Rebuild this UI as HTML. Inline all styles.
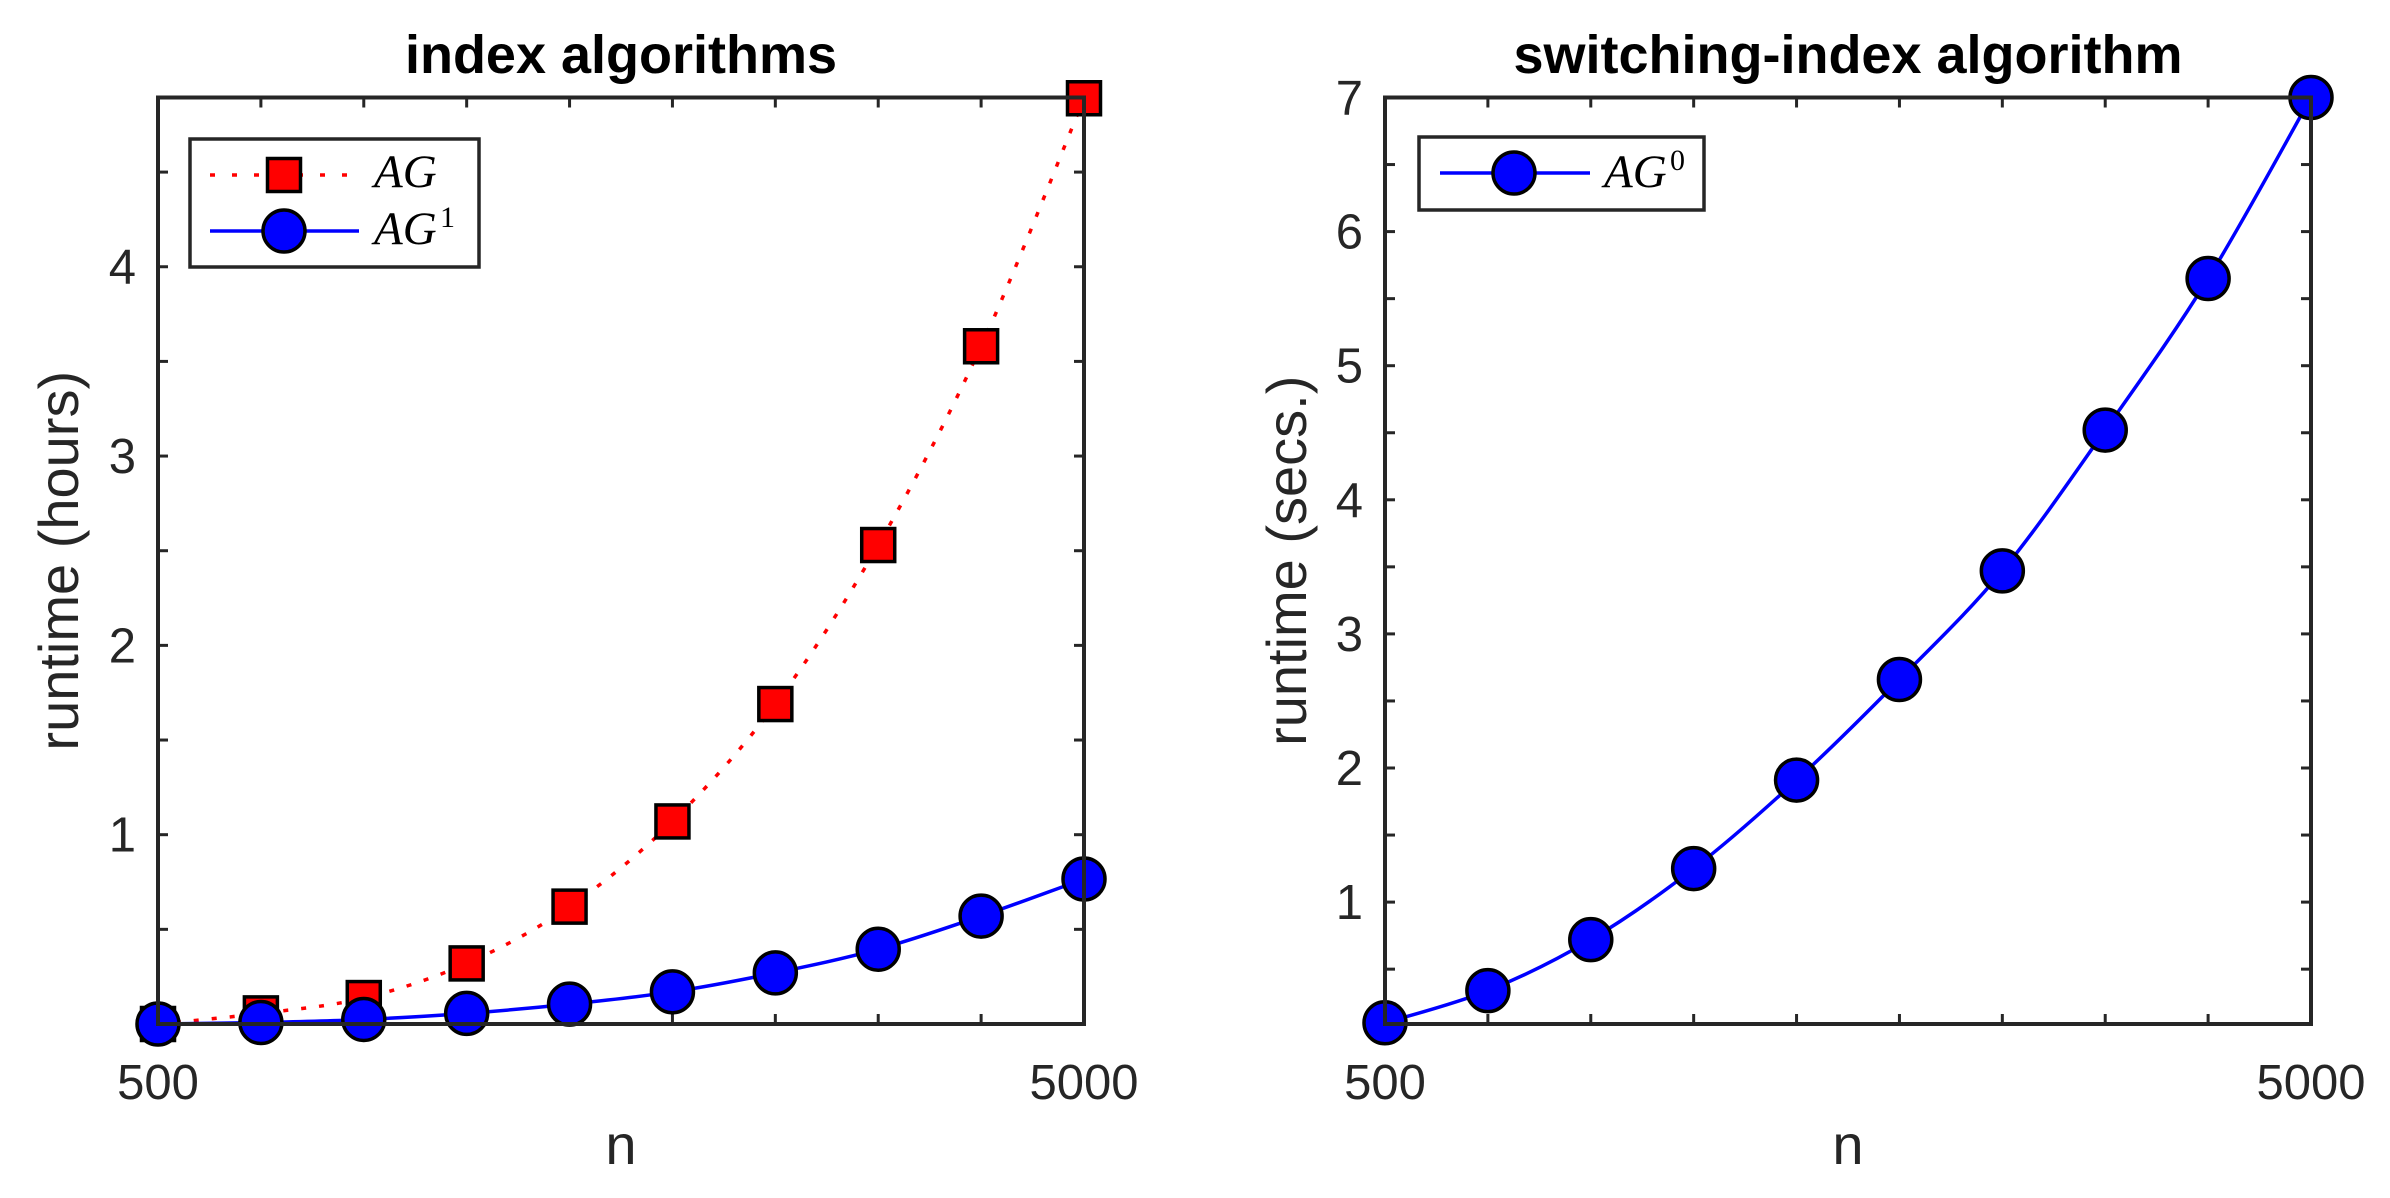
<!DOCTYPE html>
<html><head><meta charset="utf-8"><style>
html,body{margin:0;padding:0;background:#fff;}
svg{display:block;}
.t{font-family:"Liberation Sans",sans-serif;fill:#262626;}
.lg{font-family:"Liberation Serif",serif;font-style:italic;fill:#000;font-size:47px;}
</style></head><body>
<svg id="s" width="2390" height="1198" viewBox="0 0 2390 1198" xmlns="http://www.w3.org/2000/svg">
<rect width="2390" height="1198" fill="#fff"/>
<text class="t" x="621" y="73" text-anchor="middle" font-size="54" font-weight="bold" style="fill:#000">index algorithms</text>
<text class="t" x="1848" y="73" text-anchor="middle" font-size="54" font-weight="bold" style="fill:#000">switching-index algorithm</text>
<g id="g"></g>
</svg>
<script>
var NS="http://www.w3.org/2000/svg",g=document.getElementById('g');
function el(n,a,t){var e=document.createElementNS(NS,n);for(var k in a)e.setAttribute(k,a[k]);if(t!=null)e.textContent=t;g.appendChild(e);return e;}
function smooth(p){var d="M"+p[0][0]+","+p[0][1];for(var i=0;i<p.length-1;i++){var p0=p[i-1]||p[i],p1=p[i],p2=p[i+1],p3=p[i+2]||p2;
var c1=[p1[0]+(p2[0]-p0[0])/6,p1[1]+(p2[1]-p0[1])/6],c2=[p2[0]-(p3[0]-p1[0])/6,p2[1]-(p3[1]-p1[1])/6];
d+=" C"+c1+" "+c2+" "+p2;}return d;}
function axis(x0,x1,y0,y1,ymin,ymax,labels,ticks,xlab,ylab,ylx){
 var X=function(v){return x0+(v-500)/4500*(x1-x0);},Y=function(v){return y1-(v-ymin)/(ymax-ymin)*(y1-y0);};
 for(var i=0;i<10;i++){var x=X(500+500*i);el('line',{x1:x,x2:x,y1:y1,y2:y1-10,stroke:'#262626','stroke-width':3});el('line',{x1:x,x2:x,y1:y0,y2:y0+10,stroke:'#262626','stroke-width':3});}
 ticks.forEach(function(v){var y=Y(v);el('line',{x1:x0,x2:x0+10,y1:y,y2:y,stroke:'#262626','stroke-width':3});el('line',{x1:x1,x2:x1-10,y1:y,y2:y,stroke:'#262626','stroke-width':3});});
 labels.forEach(function(v){el('text',{'class':'t',x:x0-22,y:Y(v)+17,'text-anchor':'end','font-size':49},String(v));});
 el('text',{'class':'t',x:x0,y:1099,'text-anchor':'middle','font-size':49},'500');
 el('text',{'class':'t',x:x1,y:1099,'text-anchor':'middle','font-size':49},'5000');
 el('text',{'class':'t',x:(x0+x1)/2,y:1164,'text-anchor':'middle','font-size':56},'n');
 el('text',{'class':'t',x:ylx,y:(y0+y1)/2,'text-anchor':'middle','font-size':56,transform:'rotate(-90 '+ylx+' '+(y0+y1)/2+')'},ylab);
 return [X,Y];
}
function box(x0,x1,y0,y1){el('rect',{x:x0,y:y0,width:x1-x0,height:y1-y0,fill:'none',stroke:'#262626','stroke-width':4});}
var L=axis(158,1084,97.5,1024,0,4.894,[1,2,3,4],[0.5,1,1.5,2,2.5,3,3.5,4,4.5],'n','runtime (hours)',78);
var ag=[0,0.056,0.137,0.32,0.62,1.07,1.69,2.53,3.58,4.89],ag1=[0,0.008,0.024,0.056,0.105,0.17,0.27,0.395,0.57,0.766];
var pa=ag.map(function(v,i){return [L[0](500+500*i),L[1](v)];}),pb=ag1.map(function(v,i){return [L[0](500+500*i),L[1](v)];});
el('path',{d:smooth(pa),fill:'none',stroke:'#f00','stroke-width':3.5,'stroke-dasharray':'5 13'});
pa.forEach(function(p){el('rect',{x:p[0]-16.5,y:p[1]-16.5,width:33,height:33,fill:'#f00',stroke:'#000','stroke-width':3.5});});
el('path',{d:smooth(pb),fill:'none',stroke:'#00f','stroke-width':3.5});
pb.forEach(function(p){el('circle',{cx:p[0],cy:p[1],r:21,fill:'#00f',stroke:'#000','stroke-width':3.5});});
box(158,1084,97.5,1024);
el('rect',{x:190,y:139,width:289,height:128,fill:'#fff',stroke:'#262626','stroke-width':3.5});
el('line',{x1:210,x2:359,y1:175,y2:175,stroke:'#f00','stroke-width':3.5,'stroke-dasharray':'5 17'});
el('rect',{x:267.5,y:158.5,width:33,height:33,fill:'#f00',stroke:'#000','stroke-width':3.5});
el('line',{x1:210,x2:359,y1:231,y2:231,stroke:'#00f','stroke-width':3.5});
el('circle',{cx:284,cy:231,r:21,fill:'#00f',stroke:'#000','stroke-width':3.5});
el('text',{'class':'lg',x:374,y:187},'AG');
el('text',{'class':'lg',x:374,y:244},'AG');
el('text',{'class':'lg',x:440,y:227,style:'font-style:normal;font-size:30px'},'1');
var R=axis(1385,2311,97.5,1024,0.091,7,[1,2,3,4,5,6,7],[0.5,1,1.5,2,2.5,3,3.5,4,4.5,5,5.5,6,6.5],'n','runtime (secs.)',1306);
var ag0=[0.10,0.34,0.72,1.25,1.91,2.66,3.47,4.52,5.65,7];
var pc=ag0.map(function(v,i){return [R[0](500+500*i),R[1](v)];});
el('path',{d:smooth(pc),fill:'none',stroke:'#00f','stroke-width':3.5});
pc.forEach(function(p){el('circle',{cx:p[0],cy:p[1],r:21,fill:'#00f',stroke:'#000','stroke-width':3.5});});
box(1385,2311,97.5,1024);
el('rect',{x:1419,y:137,width:285,height:73,fill:'#fff',stroke:'#262626','stroke-width':3.5});
el('line',{x1:1440,x2:1590,y1:173,y2:173,stroke:'#00f','stroke-width':3.5});
el('circle',{cx:1514,cy:173,r:21,fill:'#00f',stroke:'#000','stroke-width':3.5});
el('text',{'class':'lg',x:1604,y:187},'AG');
el('text',{'class':'lg',x:1670,y:170,style:'font-style:normal;font-size:30px'},'0');
</script>
</body></html>
